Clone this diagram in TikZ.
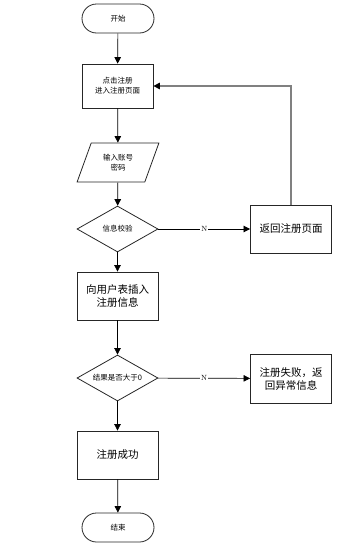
\documentclass[tikz,border=0pt]{standalone}
\usepackage{fontspec}
\newfontfamily\cjk{Noto Sans CJK SC}
\usetikzlibrary{shapes.geometric,arrows.meta}
\tikzset{
  base/.style={draw=black!85, line width=0.8pt, align=center, inner sep=0pt, font=\cjk\fontsize{10.5}{13}\selectfont},
  small/.style={font=\cjk\fontsize{7.5}{10}\selectfont},
  term/.style={base, small, rounded corners=14.5pt, minimum width=72pt, minimum height=29pt},
  procbox/.style={base, minimum width=81pt, minimum height=48pt},
  iobox/.style={base, small, trapezium, trapezium left angle=65, trapezium right angle=115, trapezium stretches=true, minimum width=82pt, minimum height=39pt},
  decide/.style={base, small, diamond, minimum width=81pt, minimum height=46pt},
  conn/.style={black, line width=0.7pt, -{Triangle[length=6.5pt,width=6.5pt,color=black]}},
  nlab/.style={fill=white, inner sep=1pt, font=\fontsize{7.5}{8}\selectfont}
}
\begin{document}
\begin{tikzpicture}[x=1pt,y=-1pt]
\useasboundingbox (0,0) rectangle (339,549);
\node[term] (start) at (118,18.5) {开始};
\node[procbox, small, minimum width=71pt, minimum height=44pt] (reg) at (117.5,86) {点击注册\\进入注册页面};
\node[iobox] (input) at (118,162.5) {输入账号\\密码};
\node[decide] (check) at (117.5,229) {\makebox[0pt]{信息校验}};
\node[procbox] (back) at (291,229) {返回注册页面};
\node[procbox] (insert) at (117.5,296) {向用户表插入\\注册信息};
\node[decide] (result) at (117.5,378) {\makebox[0pt]{结果是否大于0}};
\node[procbox, minimum height=49pt] (fail) at (291,378.5) {注册失败，返\\回异常信息};
\node[procbox] (ok) at (117.5,455) {注册成功};
\node[term] (end) at (118,527.5) {结束};

\draw[conn] (start) -- (reg);
\draw[conn] (reg) -- (input);
\draw[conn] (input) -- (check);
\draw[conn] (check) -- node[nlab]{N} (back);
\draw[conn, draw=black!50, line width=1.4pt] (back.north) |- (reg.east);
\draw[conn] (check) -- (insert);
\draw[conn] (insert) -- (result);
\draw[conn] (result) -- node[nlab]{N} (fail);
\draw[conn] (result) -- (ok);
\draw[conn] (ok) -- (end);
\end{tikzpicture}
\end{document}
